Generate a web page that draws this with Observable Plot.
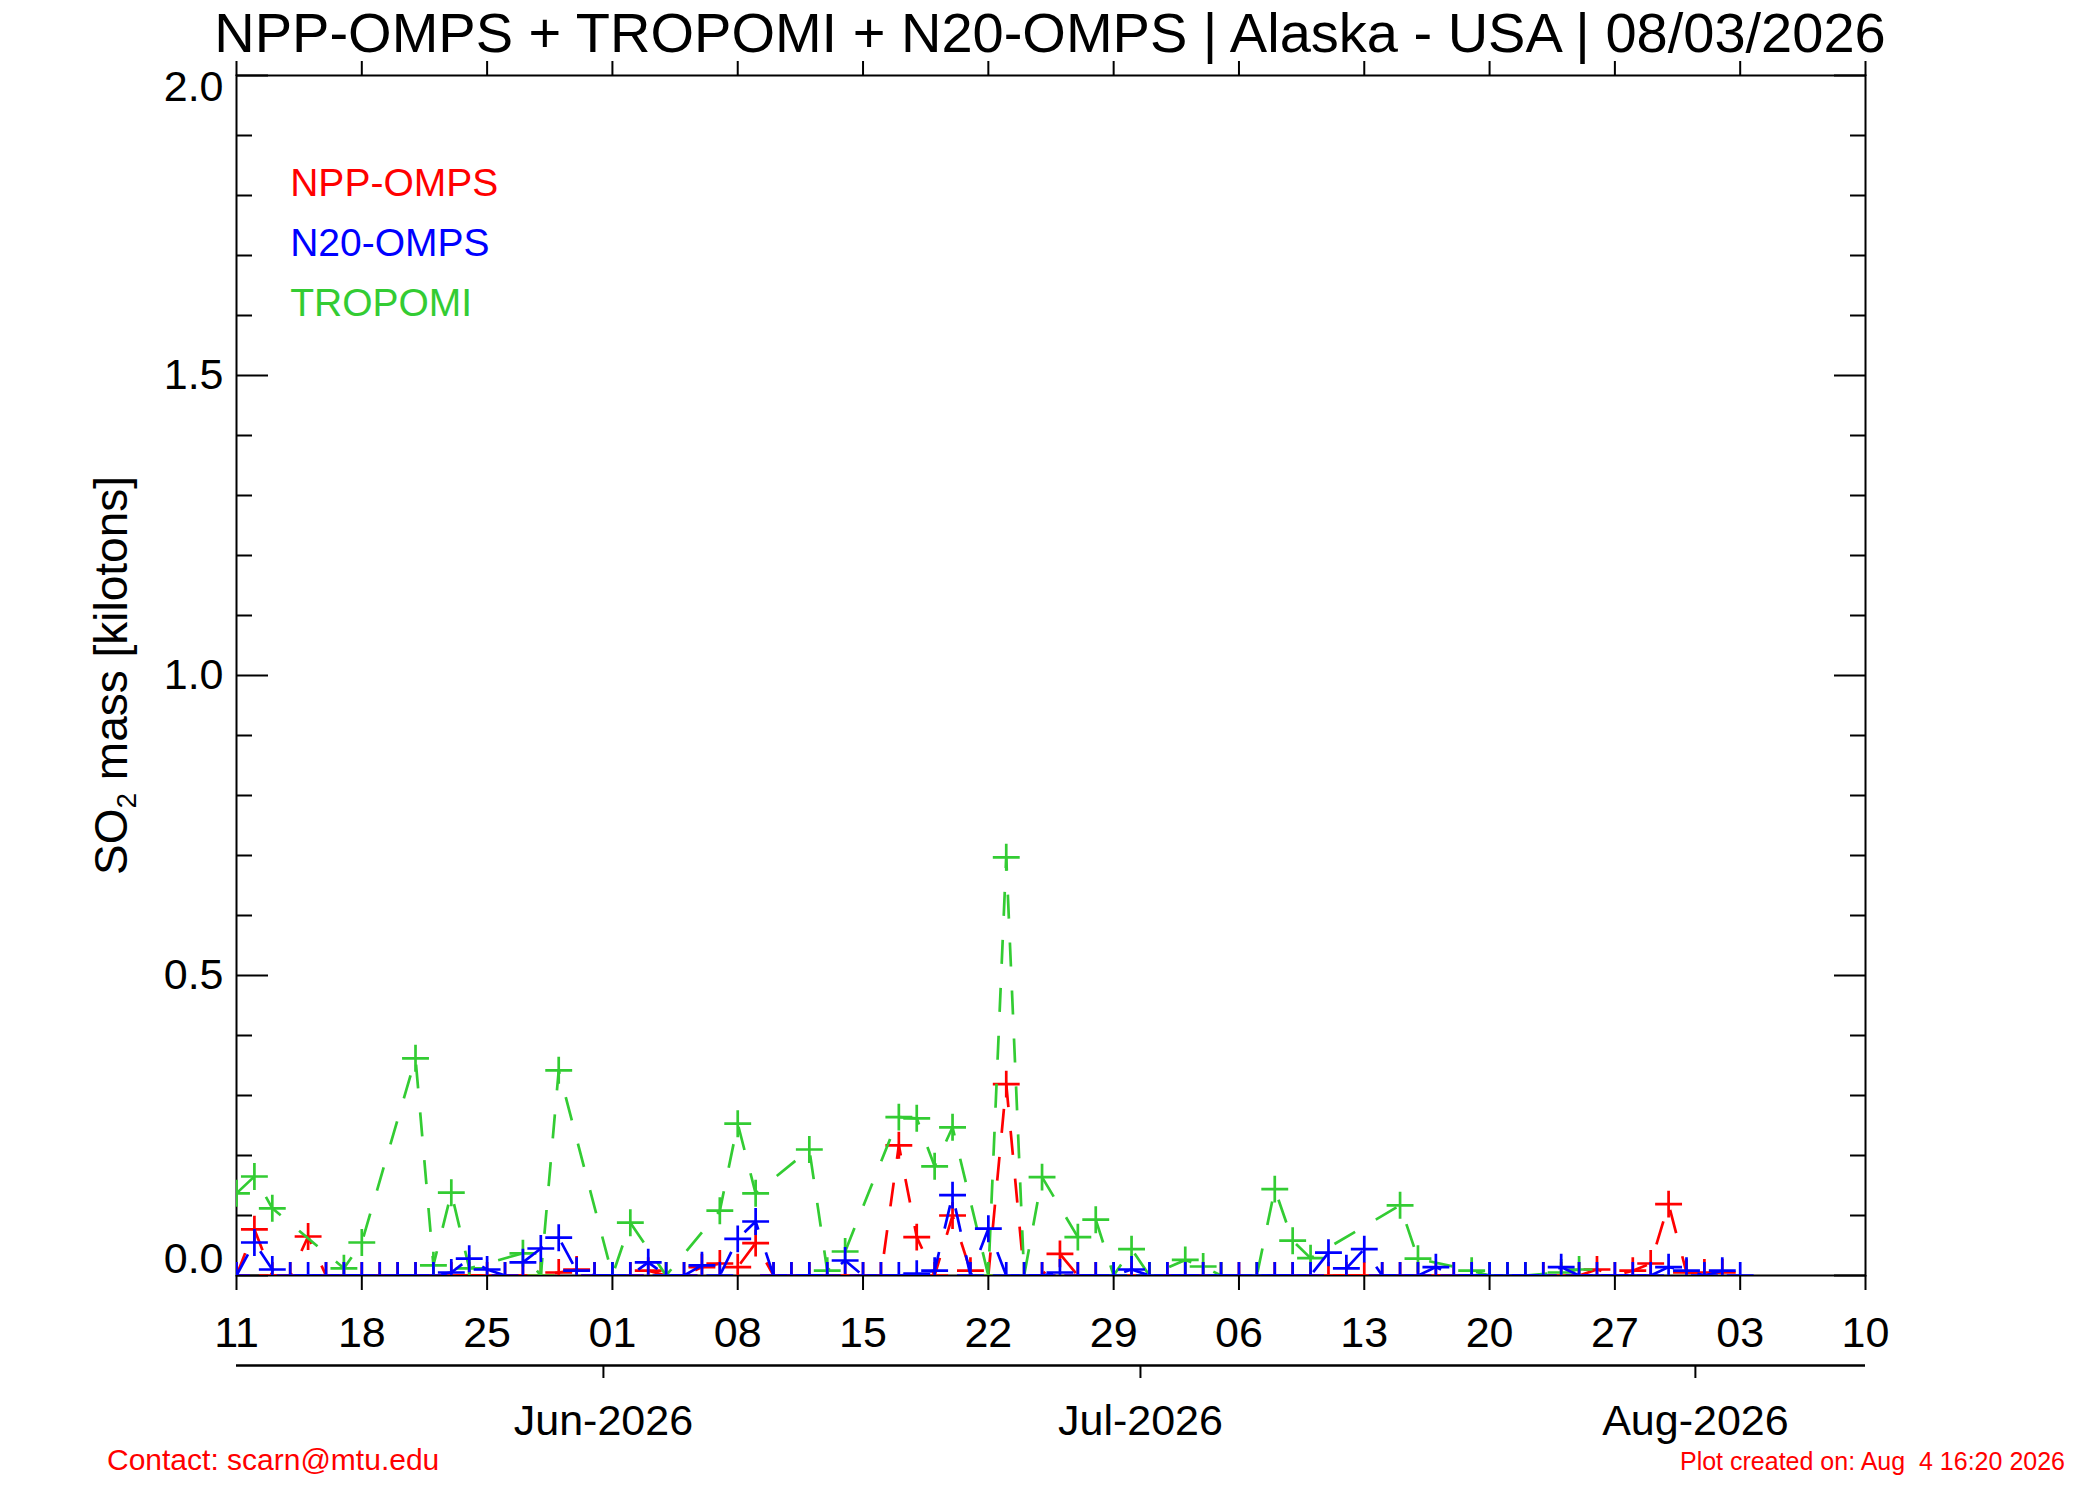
<!DOCTYPE html>
<html>
<head>
<meta charset="utf-8">
<script src="https://cdn.jsdelivr.net/npm/d3@7"></script>
<script src="https://cdn.jsdelivr.net/npm/@observablehq/plot@0.6"></script>
<style>
html, body { margin: 0; padding: 0; background: #ffffff; }
#wrap { position: relative; width: 2100px; height: 1500px; font-family: "Liberation Sans", Arial, sans-serif; }
#title { position: absolute; left: 0; top: 5px; width: 2100px; text-align: center; font-size: 56px; line-height: 56px; color: #000; white-space: nowrap; }
.foot { position: absolute; color: #ff0000; white-space: pre; }
#contact { left: 107px; top: 1445px; font-size: 30px; line-height: 30px; }
#created { right: 35px; top: 1449px; font-size: 25px; line-height: 25px; }
</style>
</head>
<body>
<div id="wrap">
  <div id="chart"></div>
  <div id="title">NPP-OMPS + TROPOMI + N20-OMPS | Alaska - USA | 08/03/2026</div>
  <div id="contact" class="foot">Contact: scarn@mtu.edu</div>
  <div id="created" class="foot">Plot created on: Aug  4 16:20 2026</div>
</div>
<script>
// ---------------- data ----------------
const startDate = "2026-05-11";
const endDate = "2026-08-10";

// NPP-OMPS daily values from 2026-05-11 (kilotons)
const nppValues = [
  0, 0.077, 0, 0, 0.065, 0, 0, 0, 0, 0,
  0, 0, 0, 0, 0, 0, 0, 0, 0.005, 0.01,
  0, 0, 0, 0.008, 0, 0, 0.014, 0.02, 0.014, 0.054,
  0, 0, 0, 0, 0, 0, 0, 0.217, 0.064, 0,
  0.1, 0.008, 0, 0.319, 0, 0, 0.036, 0, 0, 0,
  0, 0, 0, 0, 0, 0, 0, 0, 0, 0,
  0, 0, 0, 0, 0, 0, 0, 0, 0, 0,
  0, 0, 0, 0, 0, 0, 0.01, 0, 0.008, 0.02,
  0.119, 0.005, 0.005, 0.005
];

// N20-OMPS daily values from 2026-05-11 (kilotons)
const n20Values = [
  0, 0.055, 0.01, 0, 0, 0, 0, 0, 0, 0,
  0, 0, 0.005, 0.028, 0.01, 0, 0.022, 0.045, 0.063, 0.008,
  0, 0, 0, 0.022, 0, 0, 0.017, 0, 0.061, 0.09,
  0, 0, 0, 0, 0.025, 0, 0, 0, 0.003, 0.008,
  0.134, 0, 0.078, 0, 0, 0, 0.005, 0, 0, 0,
  0.01, 0, 0, 0, 0, 0, 0, 0, 0, 0,
  0, 0.038, 0.012, 0.044, 0, 0, 0, 0.014, 0, 0,
  0, 0, 0, 0, 0.014, 0, 0, 0, 0, 0,
  0.014, 0.008, 0, 0.008, 0
];

// TROPOMI: day offsets from start and values (kilotons)
const tropomiDays = [
  0, 1, 2, 6, 7, 10, 11, 12, 13, 16,
  17, 18, 21, 22, 24, 27, 28, 29, 32, 33,
  34, 37, 38, 39, 40, 42, 43, 44, 45, 47,
  48, 49, 50, 51, 53, 54, 55, 57, 58, 59,
  60, 65, 66, 69, 70, 71, 72, 74, 75
];
const tropomiValues = [
  0.137, 0.165, 0.112, 0.012, 0.055, 0.362, 0.017, 0.138, 0.012, 0.037,
  0, 0.342, 0, 0.088, 0, 0.108, 0.253, 0.137, 0.21, 0.008,
  0.04, 0.264, 0.262, 0.182, 0.247, 0, 0.697, 0, 0.164, 0.064,
  0.093, 0, 0.044, 0, 0.026, 0.015, 0, 0, 0.144, 0.058,
  0.029, 0.117, 0.028, 0.008, 0, 0, 0, 0.005, 0.01
];

const weekTickLabels = ["11", "18", "25", "01", "08", "15", "22", "29", "06", "13", "20", "27", "03", "10"];
const monthTickDates = ["2026-06-01", "2026-07-01", "2026-08-01"];
const monthTickLabels = ["Jun-2026", "Jul-2026", "Aug-2026"];
const yMajorTicks = [0, 0.5, 1.0, 1.5, 2.0];
const legendLabels = ["NPP-OMPS", "N20-OMPS", "TROPOMI"];
const yTitle = "SO2 mass [kilotons]";

// ---------------- build ----------------
const t0 = new Date(startDate + "T00:00:00Z");
const dayDate = (i) => new Date(t0.getTime() + i * 864e5);
const tEnd = new Date(endDate + "T00:00:00Z");

const npp = nppValues.map((v, i) => ({date: dayDate(i), value: v}));
const n20 = n20Values.map((v, i) => ({date: dayDate(i), value: v}));
const tropomi = tropomiDays.map((d, i) => ({date: dayDate(d), value: tropomiValues[i]}));

const weekTicks = weekTickLabels.map((_, i) => dayDate(7 * i));
const weekLabel = new Map(weekTicks.map((d, i) => [+d, weekTickLabels[i]]));
const monthTicks = monthTickDates.map((s) => new Date(s + "T00:00:00Z"));
const monthLabel = new Map(monthTicks.map((d, i) => [+d, monthTickLabels[i]]));
const yMinorTicks = d3.range(1, 20).filter((k) => k % 5 !== 0).map((k) => k / 10);

const RED = "#ff0000", BLUE = "#0000ff", GREEN = "#33cc33";
const legendColors = [RED, BLUE, GREEN];

function series(data, color) {
  return [
    Plot.line(data, {x: "date", y: "value", stroke: color, strokeWidth: 2.7, strokeDasharray: "24,24",
      strokeLinecap: "butt", strokeLinejoin: "miter", clip: true}),
    Plot.dot(data, {x: "date", y: "value", symbol: "plus", r: 8.7, stroke: color, strokeWidth: 2.7,
      strokeLinecap: "butt", clip: true})
  ];
}

const fmt = d3.format(".1f");

const chart = Plot.plot({
  width: 2100,
  height: 1500,
  marginTop: 75,
  marginBottom: 225,
  marginLeft: 236,
  marginRight: 235,
  style: {fontFamily: '"Liberation Sans", Arial, sans-serif', fontSize: "43px", color: "black", background: "white", overflow: "visible"},
  x: {type: "utc", domain: [t0, tEnd]},
  y: {domain: [0, 2]},
  marks: [
    Plot.frame({stroke: "black", strokeWidth: 2}),
    // top & bottom week ticks
    Plot.axisX(weekTicks, {anchor: "top", tickSize: 15, strokeWidth: 2, fill: "none", label: null}),
    Plot.axisX(weekTicks, {anchor: "bottom", tickSize: 15, tickPadding: 26, strokeWidth: 2,
      tickFormat: (d) => weekLabel.get(+d), label: null}),
    // second (month) axis
    Plot.ruleY([0], {dy: 90, stroke: "black", strokeWidth: 2.5}),
    Plot.axisX(monthTicks, {anchor: "bottom", tickSize: 13, tickPadding: 26, dy: 90, dx: -9, strokeWidth: 2,
      tickFormat: (d) => monthLabel.get(+d), label: null}),
    // y ticks, inward, both sides
    Plot.axisY(yMajorTicks, {anchor: "left", tickSize: -32, strokeWidth: 2, fill: "none", label: null}),
    Plot.axisY(yMinorTicks, {anchor: "left", tickSize: -16, strokeWidth: 2, fill: "none", label: null}),
    Plot.axisY(yMajorTicks, {anchor: "right", tickSize: -32, strokeWidth: 2, fill: "none", label: null}),
    Plot.axisY(yMinorTicks, {anchor: "right", tickSize: -16, strokeWidth: 2, fill: "none", label: null}),
    // y tick labels (end labels nudged inside the range as in the original)
    Plot.axisY(yMajorTicks.slice(1, -1), {anchor: "left", tickSize: 0, tickPadding: 13, tickFormat: fmt, label: null}),
    Plot.axisY(yMajorTicks.slice(-1), {anchor: "left", tickSize: 0, tickPadding: 13, tickFormat: fmt, dy: 12, label: null}),
    Plot.axisY(yMajorTicks.slice(0, 1), {anchor: "left", tickSize: 0, tickPadding: 13, tickFormat: fmt, dy: -16, label: null}),
    // y title
    Plot.text([yTitle], {frameAnchor: "left", textAnchor: "middle", rotate: -90, dx: -124, fontSize: 46, fill: "black"}),
    // data
    ...series(npp, RED),
    ...series(tropomi, GREEN),
    ...series(n20, BLUE),
    // legend
    ...legendLabels.map((lab, i) => Plot.text([lab], {
      x: () => dayDate(3), y: () => 1.8 - 0.1 * i, text: (d) => d,
      fill: legendColors[i], fontSize: 39, textAnchor: "start", lineAnchor: "bottom"
    }))
  ]
});

document.getElementById("chart").appendChild(chart);

// subscript "2" in the y title
const yt = Array.from(chart.querySelectorAll("text")).find((t) => t.textContent === yTitle);
if (yt) {
  const ns = "http://www.w3.org/2000/svg";
  yt.textContent = "";
  const a = document.createElementNS(ns, "tspan"); a.textContent = "SO";
  const b = document.createElementNS(ns, "tspan"); b.textContent = "2";
  b.setAttribute("font-size", "28px"); b.setAttribute("dy", "9");
  const c = document.createElementNS(ns, "tspan"); c.textContent = " mass [kilotons]";
  c.setAttribute("dy", "-9");
  yt.append(a, b, c);
}
</script>
</body>
</html>
